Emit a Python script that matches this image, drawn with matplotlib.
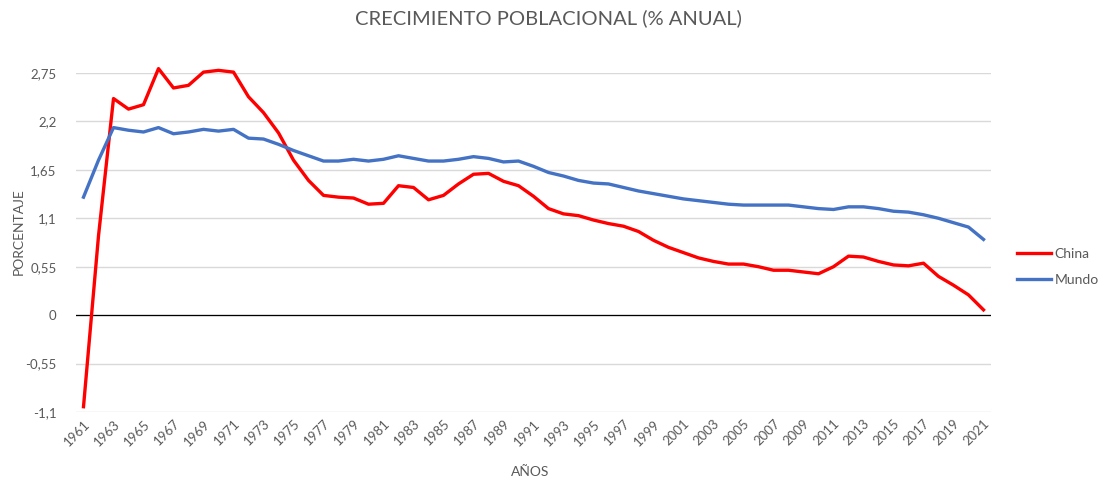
import matplotlib
matplotlib.use("Agg")
import matplotlib.pyplot as plt

years = list(range(1961, 2022))
china = [-1.04, 0.90, 2.46, 2.34, 2.39, 2.80, 2.58, 2.61, 2.76, 2.78,
         2.76, 2.48, 2.30, 2.07, 1.76, 1.53, 1.36, 1.34, 1.33, 1.26,
         1.27, 1.47, 1.45, 1.31, 1.36, 1.49, 1.60, 1.61, 1.52, 1.47,
         1.35, 1.21, 1.15, 1.13, 1.08, 1.04, 1.01, 0.95, 0.85, 0.77,
         0.71, 0.65, 0.61, 0.58, 0.58, 0.55, 0.51, 0.51, 0.49, 0.47,
         0.55, 0.67, 0.66, 0.61, 0.57, 0.56, 0.59, 0.44, 0.34, 0.23,
         0.06]
mundo = [1.34, 1.76, 2.13, 2.10, 2.08, 2.13, 2.06, 2.08, 2.11, 2.09,
         2.11, 2.01, 2.00, 1.94, 1.87, 1.81, 1.75, 1.75, 1.77, 1.75,
         1.77, 1.81, 1.78, 1.75, 1.75, 1.77, 1.80, 1.78, 1.74, 1.75,
         1.69, 1.62, 1.58, 1.53, 1.50, 1.49, 1.45, 1.41, 1.38, 1.35,
         1.32, 1.30, 1.28, 1.26, 1.25, 1.25, 1.25, 1.25, 1.23, 1.21,
         1.20, 1.23, 1.23, 1.21, 1.18, 1.17, 1.14, 1.10, 1.05, 1.00,
         0.86]
yticks = [-1.1, -0.55, 0, 0.55, 1.1, 1.65, 2.2, 2.75]
ytick_labels = ["-1,1", "-0,55", "0", "0,55", "1,1", "1,65", "2,2", "2,75"]

plt.rcParams['font.family'] = ['Lato', 'DejaVu Sans']
gray = "#595959"

fig = plt.figure(figsize=(11.05, 4.86), dpi=100)
ax = fig.add_axes([76/1105, 1-412/486, (991-76)/1105, (412-73)/486])

idx = list(range(len(years)))
ax.plot(idx, china, color="#FF0000", lw=2.4, label="China", clip_on=False, zorder=3)
ax.plot(idx, mundo, color="#4472C4", lw=2.4, label="Mundo", clip_on=False, zorder=3)
ax.axhline(0, color="black", lw=0.9, zorder=2)

ax.set_xlim(-0.5, len(years) - 0.5)
ax.set_ylim(-1.1, 2.75)
ax.set_yticks(yticks)
ax.set_yticklabels(ytick_labels)
ax.set_xticks(idx[::2])
ax.set_xticklabels([str(y) for y in years[::2]], rotation=45, ha="right",
                   rotation_mode="anchor")
ax.grid(axis="y", color="#d9d9d9", lw=1)
ax.set_axisbelow(True)
for s in ax.spines.values():
    s.set_visible(False)
ax.tick_params(axis="both", length=0, colors=gray, labelsize=9.5)
ax.tick_params(axis="y", pad=14)
ax.tick_params(axis="x", pad=4)

ax.set_xlabel("AÑOS", color=gray, fontsize=10)
ax.xaxis.set_label_coords((530-76)/915, -(466-412)/339)
ax.set_ylabel("PORCENTAJE", color=gray, fontsize=10)
ax.yaxis.set_label_coords(-(76-25)/915, (412-232)/339)
fig.text(548/1105, 1-18/486, "CRECIMIENTO POBLACIONAL (% ANUAL)", color=gray,
         fontsize=14.5, ha="center", va="center")

leg = ax.legend(loc="center left", bbox_to_anchor=(1.015, (412-267)/339), frameon=False,
                fontsize=10, handlelength=2.4, labelspacing=1.05, handletextpad=0.3)
for t in leg.get_texts():
    t.set_color(gray)

fig.savefig("out.png", dpi=100, facecolor="white")
